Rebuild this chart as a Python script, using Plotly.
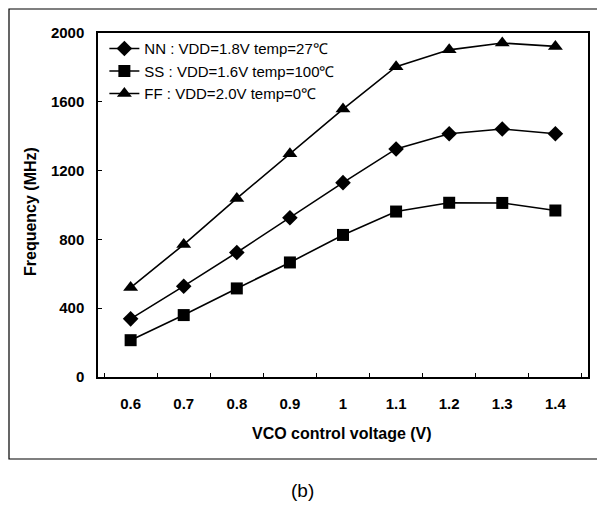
import plotly.graph_objects as go

voltages = ["0.6", "0.7", "0.8", "0.9", "1", "1.1", "1.2", "1.3", "1.4"]
nn_freq = [338, 528, 724, 926, 1130, 1326, 1414, 1442, 1414]
ss_freq = [214, 360, 515, 666, 826, 962, 1013, 1012, 968]
ff_freq = [520, 770, 1038, 1298, 1558, 1804, 1902, 1942, 1922]
y_ticks = [0, 400, 800, 1200, 1600, 2000]

names = ["NN : VDD=1.8V temp=27\u2103",
         "SS : VDD=1.6V temp=100\u2103",
         "FF : VDD=2.0V temp=0\u2103"]
symbols = ["diamond", "square", "triangle-up"]
sizes = [12, 12, 13]

fig = go.Figure()
for name, vals, sym, sz in zip(names, [nn_freq, ss_freq, ff_freq], symbols, sizes):
    fig.add_trace(go.Scatter(
        x=voltages, y=vals, name=name, mode="lines+markers",
        line=dict(color="black", width=1.6),
        marker=dict(symbol=sym, size=sz, color="black"),
    ))

# the page body adds an 8px margin around the figure
OFF = 8
W, H = 605, 511
PL, PR, PT, PB = 98, 588, 33, 377   # plot area on screen
L, T = PL - OFF, PT - OFF
R, B = W - (PR - OFF), H - (PB - OFF)
pw = PR - PL
ph = PB - PT

def px(x):
    return (x - PL) / pw

def py(y):
    return (PB - y) / ph

FONT = "Liberation Sans, Arial, sans-serif"

fig.update_layout(
    width=W, height=H,
    margin=dict(l=L, r=R, t=T, b=B),
    paper_bgcolor="white", plot_bgcolor="white",
    font=dict(family=FONT, color="black"),
    showlegend=True,
    legend=dict(x=0.013, y=1.002, xanchor="left", yanchor="top",
                bgcolor="rgba(0,0,0,0)", font=dict(size=15, color="black"),
                tracegroupgap=0, itemwidth=30),
    xaxis=dict(type="category", showline=True, linecolor="black", linewidth=1.5,
               mirror=True, ticks="inside", ticklen=4, tickson="boundaries",
               tickcolor="black", showgrid=False, zeroline=False,
               tickmode="array", tickvals=voltages,
               ticktext=["<b>%s</b>" % v for v in voltages],
               tickfont=dict(size=15, family=FONT),
               ticklabelstandoff=12),
    yaxis=dict(range=[0, 2000], tickmode="array", tickvals=y_ticks,
               ticktext=["<b>%d</b>" % v for v in y_ticks],
               showline=True, linecolor="black", linewidth=1.5, mirror=True,
               ticks="inside", ticklen=4, tickcolor="black", showgrid=False,
               zeroline=False,
               tickfont=dict(size=15, family=FONT),
               ticklabelstandoff=9),
    shapes=[dict(type="rect", xref="paper", yref="paper",
                 x0=px(9), x1=px(601), y0=py(459), y1=py(9),
                 line=dict(color="black", width=1.2), layer="below")],
    annotations=[
        dict(text="<b>VCO control voltage (V)</b>", xref="paper", yref="paper",
             x=px(342), y=py(433), xanchor="center", yanchor="middle",
             showarrow=False, font=dict(size=16)),
        dict(text="<b>Frequency (MHz)</b>", xref="paper", yref="paper",
             x=px(30), y=py(212), xanchor="center", yanchor="middle",
             textangle=-90, showarrow=False, font=dict(size=16)),
        dict(text="(b)", xref="paper", yref="paper",
             x=px(302), y=py(490), xanchor="center", yanchor="middle",
             showarrow=False, font=dict(size=19)),
    ],
)

fig.write_html("out.html")
